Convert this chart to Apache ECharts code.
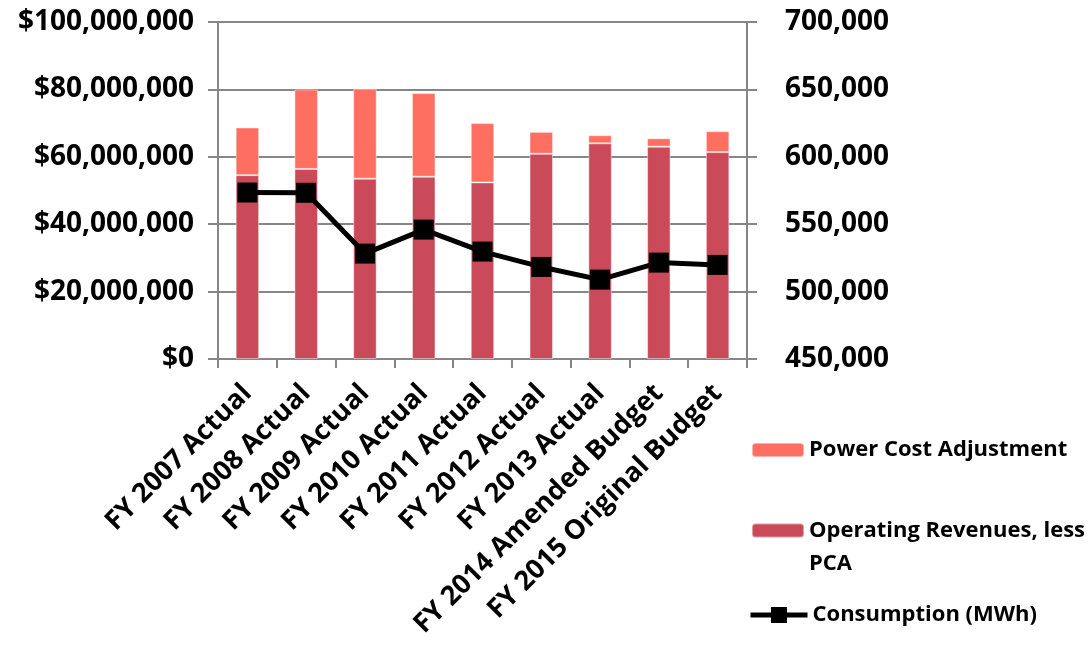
<!DOCTYPE html>
<html>
<head>
<meta charset="utf-8">
<script src="https://cdn.jsdelivr.net/npm/echarts@6/dist/echarts.min.js"></script>
<style>
  html, body { margin: 0; padding: 0; background: #fff; }
  #chart { width: 1091px; height: 654px; }
</style>
</head>
<body>
<div id="chart"></div>
<script>
// 数据
var categories = ['FY 2007 Actual', 'FY 2008 Actual', 'FY 2009 Actual', 'FY 2010 Actual',
  'FY 2011 Actual', 'FY 2012 Actual', 'FY 2013 Actual', 'FY 2014 Amended Budget', 'FY 2015 Original Budget'];
var operatingRevenues = [54550000, 56400000, 53500000, 54100000, 52400000, 60900000, 64000000, 63000000, 61400000];
var powerCostAdj = [14150000, 23600000, 26700000, 24800000, 17600000, 6500000, 2400000, 2500000, 6200000];
var consumption = [573500, 573300, 528200, 546000, 529700, 518300, 508900, 521500, 519800];

var FONT = '"Open Sans", Lato, sans-serif';
var gray = '#868686';

var chartObj = echarts.init(document.getElementById('chart'));

var option = {
  animation: false,
  grid: { left: 218, right: 344, top: 22, bottom: 295, containLabel: false },
  legend: [
    {
      data: ['Power Cost Adjustment'],
      left: 746, top: 434,
      itemWidth: 52, itemHeight: 14, itemGap: 5,
      textStyle: { fontFamily: FONT, fontWeight: 'bold', fontSize: 22, color: '#000' }
    },
    {
      data: ['Operating Revenues, less PCA'],
      left: 746, top: 476,
      itemWidth: 52, itemHeight: 14,
      formatter: function () { return ' \nOperating Revenues, less\nPCA'; },
      textStyle: { fontFamily: FONT, fontWeight: 'bold', fontSize: 22, color: '#000', lineHeight: 33 }
    },
    {
      data: ['Consumption (MWh)'],
      left: 743, top: 599,
      itemWidth: 57, itemHeight: 20,
      lineStyle: { width: 5 },
      textStyle: { fontFamily: FONT, fontWeight: 'bold', fontSize: 22, color: '#000' }
    }
  ],
  xAxis: [{
    type: 'category',
    data: categories,
    axisLine: { lineStyle: { color: gray, width: 2 } },
    axisTick: { show: true, length: 9, lineStyle: { color: gray, width: 2 } },
    axisLabel: {
      interval: 0,
      rotate: 45,
      margin: 30,
      fontFamily: FONT,
      fontWeight: 'bold',
      fontSize: 27,
      color: '#000'
    }
  }],
  yAxis: [
    {
      type: 'value',
      min: 0, max: 100000000, interval: 20000000,
      axisLine: { show: true, lineStyle: { color: gray, width: 2 } },
      axisTick: { show: true, length: 10, lineStyle: { color: gray, width: 2 } },
      splitLine: { show: true, lineStyle: { color: gray, width: 2 } },
      axisLabel: {
        margin: 24,
        fontFamily: FONT, fontWeight: 'bold', fontSize: 28, color: '#000',
        formatter: function (v) { return '$' + v.toLocaleString('en-US'); }
      }
    },
    {
      type: 'value',
      min: 450000, max: 700000, interval: 50000,
      position: 'right',
      axisLine: { show: true, lineStyle: { color: gray, width: 2 } },
      axisTick: { show: true, length: 10, lineStyle: { color: gray, width: 2 } },
      splitLine: { show: false },
      axisLabel: {
        margin: 38,
        fontFamily: FONT, fontWeight: 'bold', fontSize: 28, color: '#000',
        formatter: function (v) { return v.toLocaleString('en-US'); }
      }
    }
  ],
  series: [
    {
      name: 'Operating Revenues, less PCA',
      type: 'bar',
      stack: 'rev',
      barWidth: '40%',
      itemStyle: { color: '#CB4A5A', borderColor: 'rgba(255,255,255,0.45)', borderWidth: 1 },
      data: operatingRevenues
    },
    {
      name: 'Power Cost Adjustment',
      type: 'bar',
      stack: 'rev',
      barWidth: '40%',
      itemStyle: { color: '#FF6F61', borderColor: 'rgba(255,255,255,0.45)', borderWidth: 1 },
      data: powerCostAdj
    },
    {
      name: 'Consumption (MWh)',
      type: 'line',
      yAxisIndex: 1,
      symbol: 'rect',
      symbolSize: 20,
      lineStyle: { color: '#000', width: 5 },
      itemStyle: { color: '#000' },
      data: consumption
    }
  ]
};

chartObj.setOption(option, true);
window.addEventListener('resize', function () { chartObj.resize(); });
</script>
</body>
</html>
